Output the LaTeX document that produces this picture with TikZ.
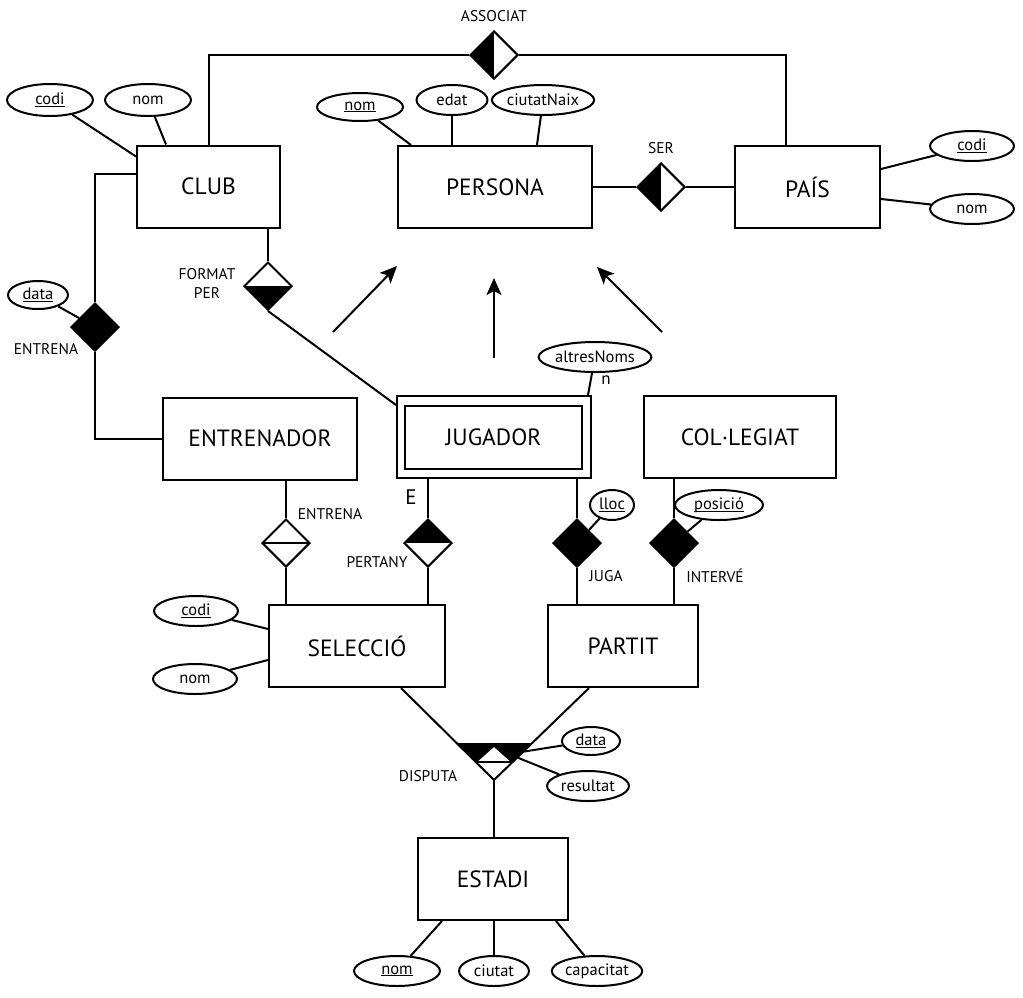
\documentclass[tikz,border=0pt]{standalone}
\usepackage{fontspec}
\setmainfont{PT Sans}
\usetikzlibrary{shapes.geometric,arrows.meta}
\newcommand\entfont{\fontsize{23.5}{27}\selectfont}
\newcommand\attfont{\fontsize{16.5}{19}\selectfont}
\newcommand\lblfont{\fontsize{15.5}{18}\selectfont}
\newcommand\ulx[1]{\setbox0\hbox{#1}\rlap{\rule[-2.2pt]{\wd0}{0.9pt}}\box0}
\tikzset{
  every path/.style={line width=2pt},
  ent/.style={draw, rectangle, line width=2pt, minimum height=82pt, inner sep=0pt, font=\entfont},
  att/.style={draw, ellipse, line width=2pt, minimum height=30pt, inner sep=0pt, font=\attfont},
  lbl/.style={font=\lblfont, inner sep=0pt},
  rel/.style={draw, diamond, line width=2pt, minimum width=48pt, minimum height=48pt, inner sep=0pt},
  relfull/.style={rel, fill=black},
  relleft/.style={rel, path picture={\fill[black] (path picture bounding box.north west) rectangle (path picture bounding box.south);}},
  relbottom/.style={rel, path picture={\fill[black] (path picture bounding box.west) rectangle (path picture bounding box.south east);}},
  reltop/.style={rel, path picture={\fill[black] (path picture bounding box.north west) rectangle (path picture bounding box.east);}},
  relsplit/.style={rel, path picture={\draw[line width=1.6pt] (path picture bounding box.west) -- (path picture bounding box.east);}},
  isa/.style={-{Stealth[length=17pt,width=15pt,inset=4pt]}},
}
\begin{document}
\begin{tikzpicture}[x=1pt,y=-1pt]
\useasboundingbox (0,0) rectangle (1023,997);
% entities
\node[ent, minimum width=143pt] (club) at (208.5,186.5) {CLUB};
\node[ent, minimum width=194pt] (persona) at (495,187) {PERSONA};
\node[ent, minimum width=145pt] (pais) at (807.5,187) {PAÍS};
\node[ent, minimum width=194pt] (entrenador) at (260,438.5) {ENTRENADOR};
\node[ent, minimum width=194pt] (jug) at (494,437) {};
\node[ent, minimum width=177pt, minimum height=63pt] (jugin) at (493.5,437.5) {JUGADOR};
\node[ent, minimum width=192pt] (col) at (740,437) {COL·LEGIAT};
\node[ent, minimum width=176pt] (sel) at (357,646) {SELECCIÓ};
\node[ent, minimum width=150pt] (partit) at (623,646) {PARTIT};
\node[ent, minimum width=150pt] (estadi) at (493,879) {ESTADI};
% attributes
\node[att, minimum width=86pt, minimum height=32pt] (codiC) at (50,100) {\ulx{codi}};
\node[att, minimum width=86pt, minimum height=32pt] (nomC) at (148,100) {nom};
\node[att, minimum width=86pt, minimum height=28pt] (nomP) at (360,107) {\ulx{nom}};
\node[att, minimum width=71pt] (edat) at (452,100) {edat};
\node[att, minimum width=86pt] (ciutatNaix) at (543,100) {ciutatNaix};
\node[att, minimum width=84pt] (codiPa) at (972,146) {\ulx{codi}};
\node[att, minimum width=84pt] (nomPa) at (972,209) {nom};
\node[att, minimum width=60pt, minimum height=28pt] (dataE) at (38,295) {\ulx{data}};
\node[att, minimum width=98pt, minimum height=30pt] (altres) at (595,357) {altresNoms};
\node[att, minimum width=44pt, minimum height=30pt] (lloc) at (612,505) {\ulx{lloc}};
\node[att, minimum width=88pt, minimum height=30pt] (posicio) at (719,505) {\ulx{posició}};
\node[att, minimum width=84pt, minimum height=30pt] (codiS) at (196,611) {\ulx{codi}};
\node[att, minimum width=84pt, minimum height=30pt] (nomS) at (195,679) {nom};
\node[att, minimum width=58pt, minimum height=28pt] (dataD) at (591,741) {\ulx{data}};
\node[att, minimum width=82pt, minimum height=30pt] (resultat) at (588,786) {resultat};
\node[att, minimum width=86pt] (nomEs) at (397,971) {\ulx{nom}};
\node[att, minimum width=70pt] (ciutat) at (494,971) {ciutat};
\node[att, minimum width=86pt] (capacitat) at (597,971) {capacitat};
% relationships
\node[relleft] (assoc) at (494,55) {};
\node[relleft] (ser) at (661,187) {};
\node[relfull] (entr1) at (95,327) {};
\node[relbottom] (fp) at (268,286) {};
\node[relsplit] (entr2) at (286,543) {};
\node[reltop] (pert) at (428,543) {};
\node[relfull] (juga) at (577,543) {};
\node[relfull] (interve) at (674,543) {};
% labels
\node[lbl] (lassoc) at (494,16) {ASSOCIAT};
\node[lbl] (lser) at (661,148) {SER};
\node[lbl, align=center] (lfp) at (207,283) {FORMAT\\[1pt]PER};
\node[lbl] (lentr1) at (46,349) {ENTRENA};
\node[lbl] (lentr2) at (330,514) {ENTRENA};
\node[lbl] (lpert) at (377,562) {PERTANY};
\node[lbl] (ljuga) at (606,576) {JUGA};
\node[lbl] (linterve) at (715,576) {INTERVÉ};
\node[lbl] (ldisp) at (428,776) {DISPUTA};
\node[lbl, font=\fontsize{21}{24}\selectfont] (lE) at (411,497) {E};
\node[lbl, font=\fontsize{17}{20}\selectfont] (ln) at (606,380) {n};
% attribute links
\draw (codiC) -- ([yshift=-12pt]club.north west);
\draw (nomC) -- ([xshift=30pt]club.north west);
\draw (nomP) -- ([xshift=14pt]persona.north west);
\draw (edat) -- (edat |- persona.north);
\draw (ciutatNaix) -- ([xshift=-56pt]persona.north east);
\draw (codiPa) -- ([yshift=-24pt]pais.north east);
\draw (nomPa) -- ([yshift=30pt]pais.south east);
\draw (dataE) -- (entr1);
\draw (altres) -- ([xshift=-4pt]jug.north east);
\draw (lloc) -- (juga);
\draw (posicio) -- (interve);
\draw (codiS) -- ([yshift=-25pt]sel.north west);
\draw (nomS) -- ([yshift=28pt]sel.south west);
\draw (nomEs) -- ([xshift=25pt]estadi.south west);
\draw (ciutat) -- (ciutat |- estadi.south);
\draw (capacitat) -- ([xshift=-13pt]estadi.south east);
% relationship links
\draw (club.north) |- (assoc.west);
\draw ([xshift=-21.5pt]pais.north) |- (assoc.east);
\draw (persona.east) -- (ser.west);
\draw (ser.east) -- (pais.west);
\draw ([yshift=-29pt]club.north west) -| (entr1.north);
\draw (entr1.south) |- (entrenador.west);
\draw (club.south -| fp) -- (fp.north);
\draw (fp.south) -- ([yshift=-10pt]jug.north west);
\draw (entrenador.south -| entr2) -- (entr2.north);
\draw (entr2.south) -- (entr2.south |- sel.north);
\draw (jug.south -| pert) -- (pert.north);
\draw (pert.south) -- (pert.south |- sel.north);
\draw (jug.south -| juga) -- (juga.north);
\draw (juga.south) -- (juga.south |- partit.north);
\draw (col.south -| interve) -- (interve.north);
\draw (interve.south) -- (interve.south |- partit.north);
% ISA arrows
\coordinate (a1s) at (333,332); \coordinate (a1e) at (397,266);
\coordinate (a2s) at (494,358); \coordinate (a2e) at (494,278);
\coordinate (a3s) at (662,332); \coordinate (a3e) at (597,267);
\draw[isa] (a1s) -- (a1e);
\draw[isa] (a2s) -- (a2e);
\draw[isa] (a3s) -- (a3e);
% DISPUTA ternary
\coordinate (dL) at (457,743);
\coordinate (dR) at (531,743);
\coordinate (dB) at (494,780);
\coordinate (dT) at (494,746);
\coordinate (dml) at (476,762);
\coordinate (dmr) at (512,762);
\coordinate (dA1) at (521,752);
\coordinate (dA2) at (516,757);
\fill[black] (dL) -- (dR) -- (dB) -- cycle;
\fill[white] (dT) -- (dmr) -- (dB) -- (dml) -- cycle;
\draw[line width=1.4pt, line join=miter] (dml) -- (dT) -- (dmr);
\draw[line width=1.4pt] (dml) -- (dmr);
\draw ([xshift=-45pt]sel.south east) -- (dB);
\draw ([xshift=-110pt]partit.south east) -- (dB);
\draw (dB) -- (dB |- estadi.north);
\draw (dataD) -- (dA1);
\draw (resultat) -- (dA2);
\end{tikzpicture}
\end{document}
